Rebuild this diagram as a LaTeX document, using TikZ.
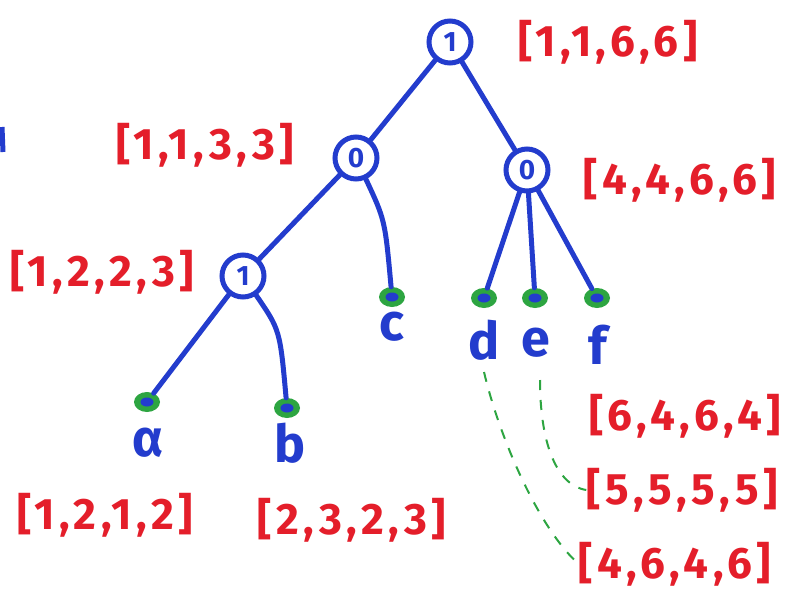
\documentclass[tikz,border=0pt]{standalone}
\usepackage{fontspec}
\setmainfont{Fira Sans}
\newfontfamily\lblfont[LetterSpace=10]{Fira Sans}
\usetikzlibrary{shapes.geometric}
\definecolor{pen}{RGB}{35,60,205}
\definecolor{redink}{RGB}{228,30,42}
\definecolor{greenink}{RGB}{45,165,65}
\begin{document}
\begin{tikzpicture}[x=1pt,y=-1pt,
  inner/.style={circle, draw=pen, line width=5pt, minimum size=42pt, inner sep=0pt,
    font=\fontsize{28}{28}\selectfont\bfseries, text=pen},
  leaf/.style={ellipse, fill=greenink, minimum width=26pt, minimum height=20pt, inner sep=0pt,
    path picture={\fill[pen] (path picture bounding box.center) ellipse (6.5pt and 4.5pt);}},
  lbl/.style={text=redink, font=\lblfont\fontsize{44}{44}\selectfont\bfseries, inner sep=0pt},
  leaftext/.style={text=pen, font=\fontsize{52}{52}\selectfont\bfseries, inner sep=0pt},
  edge/.style={draw=pen, line width=5pt, line cap=round},
  link/.style={draw=greenink, line width=2pt, dash pattern=on 10pt off 10pt}]
\fill[white] (0,0) rectangle (787,589);
\useasboundingbox (0,0) rectangle (787,589);

% inner nodes
\node[inner] (r) at (450,42) {1};
\node[inner] (l) at (356,158) {0};
\node[inner] (rr) at (527,170) {0};
\node[inner] (m) at (243,276) {1};

% leaves
\node[leaf] (c) at (392,297) {};
\node[leaf] (d) at (484,298) {};
\node[leaf] (e) at (535,298) {};
\node[leaf] (f) at (597,298) {};
\node[leaf] (a) at (147,402) {};
\node[leaf] (b) at (287,408) {};

% leaf letters
\node[leaftext] (tc) at (392,327) {c};
\node[leaftext] (td) at (484,340) {d};
\node[leaftext] (te) at (536,343) {e};
\node[leaftext] (tf) at (598,345) {f};
\node[leaftext] (ta) at (148,443) {α};
\node[leaftext] (tb) at (290,443) {b};

% edges
\draw[edge] (r) -- (l);
\draw[edge] (r) -- (rr);
\draw[edge] (l) -- (m);
\draw[edge] (l) .. controls (385,220) .. (c);
\draw[edge] (m) -- (a);
\draw[edge] (m) .. controls (280,330) .. (b);
\draw[edge] (rr) -- (d);
\draw[edge] (rr) -- (e);
\draw[edge] (rr) -- (f);

% labels
\node[lbl] (L1) at (608,42) {[1,1,6,6]};
\node[lbl] (L2) at (205,145) {[1,1,3,3]};
\node[lbl] (L3) at (680,180) {[4,4,6,6]};
\node[lbl] (L4) at (102,272) {[1,2,2,3]};
\node[lbl] (L5) at (105,515) {[1,2,1,2]};
\node[lbl] (L6) at (352,520) {[2,3,2,3]};
\node[lbl] (L7) at (685,416) {[6,4,6,4]};
\node[lbl] (L8) at (682,490) {[5,5,5,5]};
\node[lbl] (L9) at (675,564) {[4,6,4,6]};

% dashed links
\coordinate (ds) at (484,372);
\coordinate (es) at (540,380);
\draw[link] (ds) .. controls (500,440) and (540,530) .. (L9.west);
\draw[link] (es) .. controls (540,440) and (555,485) .. (L8.west);

% cut-off mark at left edge
\draw[pen, line width=5pt] (2,127) -- (3,152);
\end{tikzpicture}
\end{document}
